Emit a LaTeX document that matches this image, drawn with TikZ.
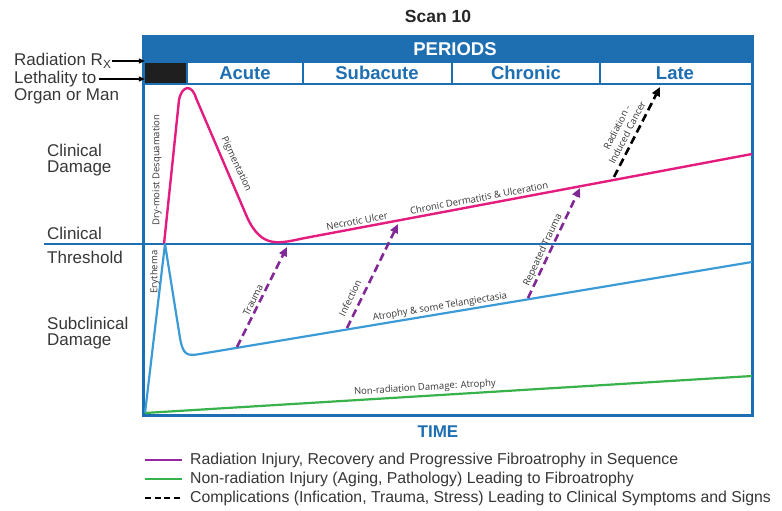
\documentclass[tikz,border=0pt]{standalone}
\usepackage{fontspec}
\setmainfont{Liberation Sans}
\newfontfamily\curvefont{Open Sans}
\usetikzlibrary{arrows.meta}

\definecolor{frameblue}{RGB}{30,110,178}
\definecolor{curveblue}{RGB}{58,155,215}
\definecolor{injurypink}{RGB}{228,28,128}
\definecolor{agegreen}{RGB}{56,178,74}
\definecolor{complpurple}{RGB}{128,40,150}
\definecolor{legendpurple}{RGB}{150,40,160}
\definecolor{textgrey}{RGB}{55,55,55}

\begin{document}
\begin{tikzpicture}[x=1pt, y=-1pt,
  every node/.style = {inner sep=0pt, text=textgrey},
  sidetext/.style = {anchor=west, align=left, font=\fontsize{17}{16}\selectfont},
  period/.style = {font=\bfseries\fontsize{18.5}{19}\selectfont, text=frameblue},
  curvetext/.style = {font=\curvefont\fontsize{9.5}{11.5}\selectfont, align=center},
  legendtext/.style = {anchor=west, font=\fontsize{15.8}{16}\selectfont},
  complication/.style = {complpurple, line width=2.6pt, dash pattern=on 8pt off 4.5pt, -{Triangle[length=9pt,width=8pt]}},
  cancer/.style = {complication, black}]
  \fill[white] (0,0) rectangle (782,511);
  \useasboundingbox (0,0) rectangle (782,511);

  % header
  \node[font=\bfseries\fontsize{17.5}{18}\selectfont, text=black!85] (title) at (438,16) {Scan 10};
  \fill[frameblue] (143,37) rectangle (752,63);
  \node[font=\bfseries\fontsize{18.5}{19}\selectfont, text=white] (periods) at (455,49) {PERIODS};
  \node[fill=black!88, minimum width=42pt, minimum height=20pt] (dose) at (166,73) {};
  \node[period] (acute) at (245,73) {Acute};
  \node[period] (subacute) at (377,73) {Subacute};
  \node[period] (chronic) at (526,73) {Chronic};
  \node[period] (late) at (675,73) {Late};
  \draw[frameblue, line width=2pt] (143,84) -- (752,84);
  \foreach \x in {187,303,452,600}
    \draw[frameblue, line width=2pt] (\x,63) -- (\x,84);
  \draw[frameblue, line width=3pt] (143,37) rectangle (752,415);
  \draw[frameblue, line width=2.2pt] (44,244) -- (752,244);

  % side labels
  \node[sidetext] (rad) at (14,61) {Radiation R\textsubscript{X}};
  \node[sidetext] (lethal) at (14,79) {Lethality to};
  \node[sidetext] (organ) at (14,96) {Organ or Man};
  \draw[-{Triangle[length=6pt,width=5pt]}, line width=1.2pt] (rad.east) -- (rad.east -| dose.west);
  \draw[-{Triangle[length=6pt,width=5pt]}, line width=1.2pt] ([xshift=2pt]lethal.east) -- (lethal.east -| dose.west);
  \node[sidetext] (clindamage) at (47,160) {Clinical\\Damage};
  \node[sidetext] (clinical) at (47,233) {Clinical};
  \node[sidetext] (threshold) at (47,257) {Threshold};
  \node[sidetext] (subclinical) at (47,333) {Subclinical\\Damage};

  % curves
  \draw[injurypink, line width=2.4pt, line join=round]
    (164,244) -- (179,100) .. controls (182,85) and (192,84) .. (196,98)
    -- (247,217) .. controls (262,250) and (280,243) .. (305,238) -- (752,154);
  \draw[curveblue, line width=2.2pt, line join=round]
    (145,413) -- (165,244) -- (180,338) .. controls (183,356) and (188,356) .. (200,354) -- (752,262);
  \draw[agegreen, line width=2.2pt] (145,413) -- (752,376);

  % complications
  \coordinate (traumaA) at (237,347);  \coordinate (traumaB) at (287,247);
  \coordinate (infectA) at (347,328);  \coordinate (infectB) at (398,224);
  \coordinate (repeatA) at (528,298);  \coordinate (repeatB) at (580,188);
  \coordinate (cancerA) at (614,177);  \coordinate (cancerB) at (660,87);
  \draw[complication] (traumaA) -- (traumaB);
  \draw[complication] (infectA) -- (infectB);
  \draw[complication] (repeatA) -- (repeatB);
  \draw[cancer] (cancerA) -- (cancerB);

  % curve labels
  \node[curvetext, rotate=90] (desquam) at (157,170) {Dry-moist Desquamation};
  \node[curvetext, rotate=-65] (pigment) at (236,164) {Pigmentation};
  \node[curvetext, rotate=10.6] (ulcer) at (357,221) {Necrotic Ulcer};
  \node[curvetext, rotate=10.6] (dermatitis) at (479,198) {Chronic Dermatitis \& Ulceration};
  \node[curvetext, rotate=90] (erythema) at (155,272) {Erythema};
  \node[curvetext, rotate=63.7] (trauma) at (253,300) {Trauma};
  \node[curvetext, rotate=64] (infection) at (350,298) {Infection};
  \node[curvetext, rotate=9.5] (atrophy) at (440,307) {Atrophy \& some Telangiectasia};
  \node[curvetext, rotate=64.7] (repeated) at (543,250) {Repeated Trauma};
  \node[curvetext, rotate=62.7] (cancertext) at (622,130) {Radiation -\\Induced Cancer};
  \node[curvetext, rotate=3.5] (nonrad) at (425,388) {Non-radiation Damage: Atrophy};

  % time axis and legend
  \node[font=\bfseries\fontsize{17}{17}\selectfont, text=frameblue] (time) at (438,432) {TIME};
  \node[legendtext] (leg1) at (190,460) {Radiation Injury, Recovery and Progressive Fibroatrophy in Sequence};
  \node[legendtext] (leg2) at (190,479) {Non-radiation Injury (Aging, Pathology) Leading to Fibroatrophy};
  \node[legendtext] (leg3) at (190,498) {Complications (Infication, Trauma, Stress) Leading to Clinical Symptoms and Signs};
  \draw[legendpurple, line width=2pt] ([xshift=-45pt]leg1.west) -- ([xshift=-8pt]leg1.west);
  \draw[agegreen, line width=2pt] ([xshift=-45pt]leg2.west) -- ([xshift=-8pt]leg2.west);
  \draw[black, line width=2pt, dash pattern=on 6pt off 3.5pt] ([xshift=-45pt]leg3.west) -- ([xshift=-8pt]leg3.west);
\end{tikzpicture}
\end{document}
